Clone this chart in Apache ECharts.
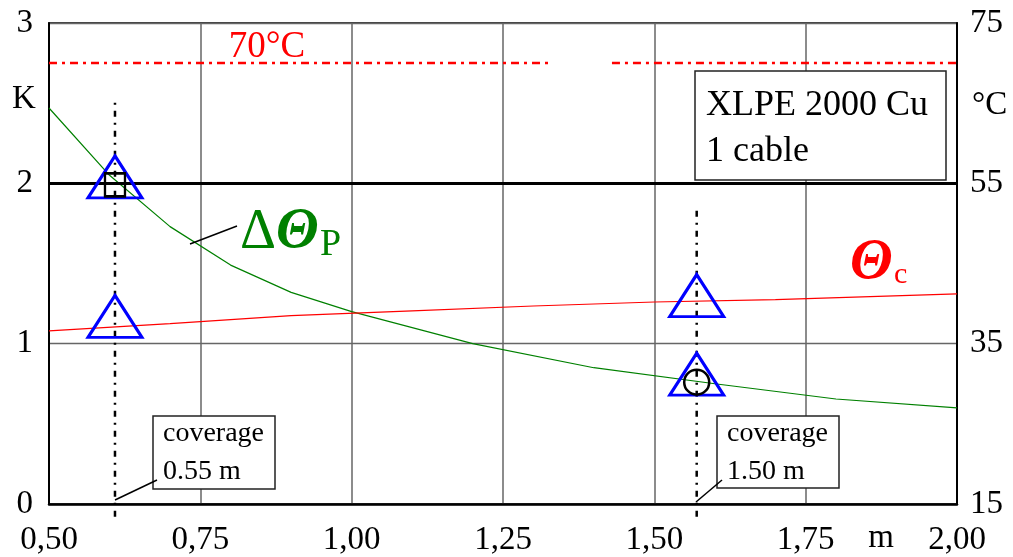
<!DOCTYPE html>
<html>
<head>
<meta charset="utf-8">
<script src="https://cdn.jsdelivr.net/npm/echarts@6/dist/echarts.min.js"></script>
<style>
  html, body { margin: 0; padding: 0; background: #fff; }
  #chart { width: 1013px; height: 557px; }
</style>
</head>
<body>
<div id="chart"></div>
<script>
// coverage depth (m) for the ΔΘP curve, in K (left axis)
var xP = [0.5, 0.6, 0.7, 0.8, 0.9, 1.0, 1.2, 1.4, 1.6, 1.8, 2.0]
var dThetaP = [2.47, 2.05, 1.73, 1.49, 1.32, 1.20, 1.00, 0.85, 0.75, 0.655, 0.60]

// conductor temperature Θc, °C (right axis)
var xC = [0.5, 0.7, 0.9, 1.1, 1.3, 1.5, 1.7, 2.0]
var thetaC = [36.6, 37.5, 38.5, 39.1, 39.7, 40.2, 40.5, 41.2]

// the two marked coverages
var coverX = [0.609, 1.570]
var coverTop = [2.52, 1.85]
var coverBottom = -0.08
var triY = [[2.04, 1.17], [1.30, 0.81]]
var squareY = 1.99
var circleY = 0.76

// 70 °C limit line (drawn in two pieces around the label gap)
var limitC = 70
var limitSpans = [[0.5, 1.328], [1.43, 2.022]]

var serif = 'Liberation Serif, Times New Roman, serif'
var fmtX = function (v) { return v.toFixed(2).replace('.', ',') }

var chart = echarts.init(document.getElementById('chart'), null, { renderer: 'canvas' })

var triData = []
for (var i = 0; i < coverX.length; i++) {
  triData.push([coverX[i], triY[i][0]])
  triData.push([coverX[i], triY[i][1]])
}

var series = [
  {
    type: 'line', data: xP.map(function (x, i) { return [x, dThetaP[i]] }),
    showSymbol: false, symbol: 'none', lineStyle: { color: '#008000', width: 1.2 }, z: 3,
    markLine: {
      silent: true, symbol: 'none', label: { show: false },
      lineStyle: { color: '#000', width: 3, type: 'solid' },
      data: [{ yAxis: 2 }]
    }
  },
  {
    type: 'line', yAxisIndex: 1, data: xC.map(function (x, i) { return [x, thetaC[i]] }),
    showSymbol: false, symbol: 'none', lineStyle: { color: '#ff0000', width: 1.2 }, z: 3
  }
]

limitSpans.forEach(function (s) {
  series.push({
    type: 'line', yAxisIndex: 1, clip: false, symbol: 'none',
    data: [[s[0], limitC], [s[1], limitC]],
    lineStyle: { color: '#ff0000', width: 2.5, type: [8, 5, 3, 5] }, z: 4
  })
})

coverX.forEach(function (x, i) {
  series.push({
    type: 'line', clip: false, symbol: 'none',
    data: [[x, coverBottom], [x, coverTop[i]]],
    lineStyle: { color: '#000', width: 2.5, type: [6, 6, 2, 6] }, z: 4
  })
})

series.push({
  type: 'scatter', data: triData, symbol: 'triangle', symbolSize: [54, 42],
  itemStyle: { color: 'rgba(0,0,0,0)', borderColor: '#0000ff', borderWidth: 3, opacity: 1 }, z: 6
})
series.push({
  type: 'scatter', data: [[coverX[0], squareY]], symbol: 'rect', symbolSize: [20, 23],
  itemStyle: { color: 'rgba(0,0,0,0)', borderColor: '#000', borderWidth: 2.5, opacity: 1 }, z: 7
})
series.push({
  type: 'scatter', data: [[coverX[1], circleY]], symbol: 'circle', symbolSize: 25,
  itemStyle: { color: 'rgba(0,0,0,0)', borderColor: '#000', borderWidth: 2.5, opacity: 1 }, z: 7
})

function txt(x, y, s, size, color, extra) {
  var pre = ''
  if (extra && extra.italic) pre += 'italic '
  if (extra && extra.bold) pre += 'bold '
  var style = { text: s, x: x, y: y, font: pre + size + 'px ' + serif,
    fill: color || '#000', align: (extra && extra.align) || 'left', verticalAlign: 'middle' }
  return { type: 'text', z: 100, style: style }
}
function box(x, y, w, h) {
  return { type: 'rect', z: 90, shape: { x: x, y: y, width: w, height: h },
    style: { fill: '#fff', stroke: '#222', lineWidth: 1.5 } }
}
function seg(x1, y1, x2, y2) {
  return { type: 'line', z: 95, shape: { x1: x1, y1: y1, x2: x2, y2: y2 },
    style: { stroke: '#000', lineWidth: 1.5 } }
}

var graphics = [
  txt(24, 99, 'K', 33, '#000', { align: 'center' }),
  txt(972, 105, '°C', 33),
  txt(881, 538, 'm', 33, '#000', { align: 'center' }),
  txt(267, 47, '70°C', 37, '#ff0000', { align: 'center' }),

  box(695, 71, 251, 109),
  txt(706, 106, 'XLPE 2000 Cu', 36),
  txt(706, 152, '1 cable', 36),

  box(153, 416, 122, 73),
  txt(163, 434, 'coverage', 28),
  txt(163, 472, '0.55 m', 28),
  seg(115, 500, 157, 480),

  box(717, 416, 122, 72),
  txt(727, 434, 'coverage', 28),
  txt(727, 472, '1.50 m', 28),
  seg(696, 502, 722, 480),

  seg(190, 244, 237, 226),
  txt(240, 233, 'Δ', 56, '#008000'),
  txt(276, 233, 'Θ', 56, '#008000', { italic: true, bold: true }),
  txt(320, 245, 'P', 38, '#008000'),

  txt(850, 264, 'Θ', 56, '#ff0000', { italic: true, bold: true }),
  txt(894, 275, 'c', 30, '#ff0000')
]

var labelBase = { fontSize: 33, fontFamily: serif, color: '#000' }

chart.setOption({
  animation: false,
  backgroundColor: '#fff',
  grid: { left: 49, right: 56, top: 23, bottom: 53, show: true, borderColor: '#000', borderWidth: 1.5 },
  xAxis: {
    type: 'value', min: 0.5, max: 2.0, interval: 0.25,
    axisLine: { show: true, lineStyle: { color: '#000', width: 2.5 } },
    axisTick: { show: false },
    axisLabel: Object.assign({ formatter: fmtX, margin: 20, alignMinLabel: 'center', alignMaxLabel: 'center' }, labelBase),
    splitLine: { show: true, lineStyle: { color: '#666', width: 1.5 } }
  },
  yAxis: [
    {
      type: 'value', min: 0, max: 3, interval: 1,
      axisLine: { show: true, lineStyle: { color: '#000', width: 2 } },
      axisTick: { show: false },
      axisLabel: Object.assign({ margin: 16, verticalAlignMinLabel: 'middle', verticalAlignMaxLabel: 'middle', padding: [4, 0, 0, 0] }, labelBase),
      splitLine: { show: true, lineStyle: { color: '#666', width: 1.3 } }
    },
    {
      type: 'value', min: 15, max: 75, interval: 20, position: 'right',
      axisLine: { show: true, lineStyle: { color: '#000', width: 2 } },
      axisTick: { show: false },
      axisLabel: Object.assign({ margin: 13, verticalAlignMinLabel: 'middle', verticalAlignMaxLabel: 'middle' }, labelBase),
      splitLine: { show: false }
    }
  ],
  series: series,
  graphic: graphics
})
</script>
</body>
</html>
